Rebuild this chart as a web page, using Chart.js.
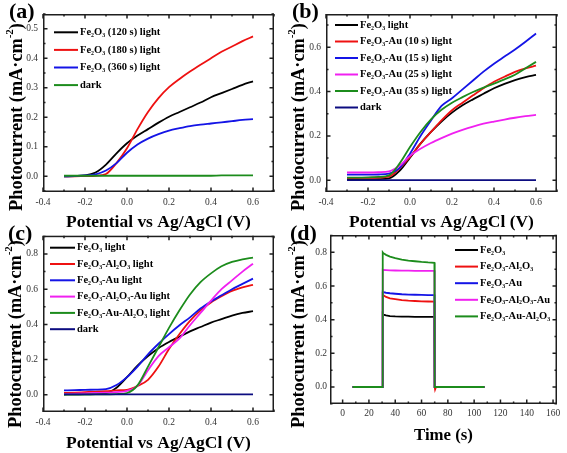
<!DOCTYPE html>
<html>
<head>
<meta charset="utf-8">
<script src="https://cdn.jsdelivr.net/npm/chart.js@4"></script>
<style>
  html, body { margin: 0; padding: 0; background: #fff; }
  body { width: 567px; height: 453px; position: relative; overflow: hidden; }
  .panel { position: absolute; }
</style>
</head>
<body>
<div class="panel" style="left:0;top:0;width:283px;height:235px"><canvas id="chartA"></canvas></div>
<div class="panel" style="left:283px;top:0;width:284px;height:235px"><canvas id="chartB"></canvas></div>
<div class="panel" style="left:0;top:225px;width:283px;height:228px"><canvas id="chartC"></canvas></div>
<div class="panel" style="left:283px;top:225px;width:284px;height:228px"><canvas id="chartD"></canvas></div>
<script>
// shared potential axis (V vs Ag/AgCl) for panels a-c
const potential = [-0.3, -0.25, -0.2, -0.15, -0.1, -0.05, 0, 0.05, 0.1, 0.15, 0.2, 0.25, 0.3, 0.35, 0.4, 0.45, 0.5, 0.55, 0.6];
const potentialTicks = [-0.4, -0.2, 0, 0.2, 0.4, 0.6];

// (a) deposition time
const fe120 = [0.000, 0.001, 0.003, 0.013, 0.040, 0.078, 0.112, 0.138, 0.160, 0.182, 0.202, 0.218, 0.234, 0.250, 0.268, 0.282, 0.296, 0.310, 0.322];
const fe180 = [0.000, 0.000, 0.001, 0.002, 0.008, 0.045, 0.095, 0.160, 0.218, 0.265, 0.302, 0.330, 0.355, 0.378, 0.400, 0.422, 0.440, 0.458, 0.474];
const fe360 = [0.000, 0.001, 0.003, 0.007, 0.020, 0.045, 0.080, 0.108, 0.128, 0.143, 0.155, 0.163, 0.170, 0.175, 0.179, 0.183, 0.187, 0.191, 0.194];
const darkA = [0.002, 0.002, 0.002, 0.002, 0.002, 0.002, 0.002, 0.002, 0.002, 0.002, 0.002, 0.002, 0.002, 0.002, 0.002, 0.003, 0.003, 0.003, 0.003];
const ticksYA = [0, 0.1, 0.2, 0.3, 0.4, 0.5];

// (b) Au sputtering time
const feB = [0.003, 0.003, 0.004, 0.005, 0.008, 0.042, 0.102, 0.165, 0.218, 0.265, 0.305, 0.338, 0.365, 0.390, 0.415, 0.435, 0.452, 0.465, 0.475];
const au10 = [0.010, 0.010, 0.011, 0.012, 0.016, 0.053, 0.105, 0.165, 0.218, 0.270, 0.316, 0.350, 0.383, 0.415, 0.444, 0.467, 0.489, 0.505, 0.517];
const au15 = [0.025, 0.025, 0.025, 0.026, 0.030, 0.055, 0.120, 0.200, 0.270, 0.335, 0.370, 0.410, 0.450, 0.490, 0.526, 0.558, 0.590, 0.625, 0.662];
const au25 = [0.035, 0.035, 0.035, 0.036, 0.040, 0.065, 0.110, 0.142, 0.168, 0.190, 0.210, 0.227, 0.242, 0.255, 0.265, 0.274, 0.282, 0.289, 0.295];
const au35 = [0.012, 0.012, 0.013, 0.015, 0.022, 0.075, 0.150, 0.218, 0.275, 0.318, 0.350, 0.375, 0.398, 0.418, 0.436, 0.455, 0.476, 0.505, 0.534];
const darkB = [0.001, 0.001, 0.001, 0.001, 0.001, 0.001, 0.001, 0.001, 0.001, 0.001, 0.001, 0.001, 0.001, 0.001, 0.001, 0.001, 0.001, 0.001, 0.001];
const ticksYB = [0, 0.2, 0.4, 0.6];

// (c) Al2O3 / Au combinations
const feC = [0.003, 0.003, 0.004, 0.006, 0.010, 0.040, 0.100, 0.165, 0.220, 0.265, 0.300, 0.330, 0.360, 0.385, 0.410, 0.430, 0.450, 0.465, 0.475];
const feAl = [0.010, 0.012, 0.015, 0.018, 0.020, 0.025, 0.028, 0.050, 0.085, 0.160, 0.260, 0.345, 0.420, 0.480, 0.525, 0.560, 0.590, 0.610, 0.625];
const feAu = [0.025, 0.026, 0.028, 0.029, 0.032, 0.055, 0.100, 0.160, 0.230, 0.290, 0.345, 0.395, 0.440, 0.490, 0.530, 0.565, 0.600, 0.630, 0.660];
const feAlAu = [0.005, 0.006, 0.008, 0.010, 0.012, 0.015, 0.022, 0.050, 0.140, 0.220, 0.270, 0.320, 0.395, 0.465, 0.535, 0.600, 0.650, 0.700, 0.745];
const feAuAl = [0.000, 0.001, 0.001, 0.002, 0.002, 0.004, 0.010, 0.053, 0.160, 0.270, 0.380, 0.480, 0.570, 0.640, 0.690, 0.730, 0.755, 0.770, 0.780];
const darkC = [0.002, 0.002, 0.002, 0.002, 0.002, 0.002, 0.002, 0.002, 0.002, 0.002, 0.002, 0.002, 0.002, 0.002, 0.002, 0.002, 0.002, 0.002, 0.002];
const ticksYC = [0, 0.2, 0.4, 0.6, 0.8];

// (d) chopped light, time in s
const timeD = [7.5, 30.3, 30.5, 31, 33, 36, 40, 45, 50, 55, 60, 65, 69.8, 70, 70.3, 71, 108];
const tFe = [0, 0, 0.435, 0.430, 0.425, 0.421, 0.419, 0.418, 0.418, 0.417, 0.417, 0.417, 0.417, 0, 0, 0, 0];
const tFeAl = [0, 0, 0.550, 0.545, 0.535, 0.527, 0.522, 0.516, 0.513, 0.511, 0.509, 0.508, 0.507, 0, -0.015, 0, 0];
const tFeAu = [0, 0, 0.565, 0.563, 0.560, 0.557, 0.554, 0.551, 0.549, 0.548, 0.547, 0.546, 0.546, 0, 0, 0, 0];
const tFeAlAu = [0, 0, 0.697, 0.695, 0.694, 0.693, 0.692, 0.691, 0.691, 0.690, 0.690, 0.690, 0.690, 0, 0, 0, 0];
const tFeAuAl = [0, 0, 0.800, 0.795, 0.785, 0.775, 0.765, 0.757, 0.751, 0.747, 0.743, 0.740, 0.738, 0, 0, 0, 0];
const ticksXD = [0, 20, 40, 60, 80, 100, 120, 140, 160];
const ticksYD = [0, 0.2, 0.4, 0.6, 0.8];

const SERIF = '"Liberation Serif", "DejaVu Serif", serif';
Chart.defaults.font.family = SERIF;
const FRAME = '#1e1e1e';

// text with unicode subscript digits drawn as real small lowered digits
function drawRich(ctx, text, x, y, size) {
  let run = '', sub = false;
  const flush = () => {
    if (!run) return;
    ctx.font = 'bold ' + (sub ? size * 0.56 : size) + 'px ' + SERIF;
    ctx.fillText(run, x, sub ? y + size * 0.3 : y);
    x += ctx.measureText(run).width;
    run = '';
  };
  for (const ch of text) {
    const c = ch.charCodeAt(0);
    const isSub = c >= 0x2080 && c <= 0x2089;
    if (isSub !== sub) { flush(); sub = isSub; }
    run += isSub ? String(c - 0x2080) : ch;
  }
  flush();
}

function minorTicks(scale, majors) {
  const out = [];
  for (let i = 0; i < majors.length - 1; i++) out.push((majors[i] + majors[i + 1]) / 2);
  const step = majors[1] - majors[0];
  if (majors[0] - step / 2 >= scale.min) out.push(majors[0] - step / 2);
  if (majors[majors.length - 1] + step / 2 <= scale.max) out.push(majors[majors.length - 1] + step / 2);
  return out;
}

const deco = {
  id: 'deco',
  afterDraw(chart, args, o) {
    const ctx = chart.ctx;
    const sx = chart.scales.x, sy = chart.scales.y;
    const L = sx.left, R = sx.right, T = sy.top, B = sy.bottom;
    ctx.save();
    // frame box and inward ticks on all four sides
    ctx.strokeStyle = FRAME;
    ctx.lineWidth = 1.5;
    ctx.strokeRect(L + 0.75, T + 0.75, R - L - 1.5, B - T - 1.5);
    ctx.beginPath();
    [[o.xMajor, 4.5], [minorTicks(sx, o.xMajor), 2.5]].forEach(([vals, len]) => vals.forEach(v => {
      const px = sx.getPixelForValue(v);
      ctx.moveTo(px, B); ctx.lineTo(px, B - len);
      ctx.moveTo(px, T); ctx.lineTo(px, T + len);
    }));
    [[o.yMajor, 4.5], [minorTicks(sy, o.yMajor), 2.5]].forEach(([vals, len]) => vals.forEach(v => {
      const py = sy.getPixelForValue(v);
      ctx.moveTo(L, py); ctx.lineTo(L + len, py);
      ctx.moveTo(R, py); ctx.lineTo(R - len, py);
    }));
    ctx.stroke();

    // legend
    ctx.textBaseline = 'middle';
    ctx.textAlign = 'left';
    chart.data.datasets.forEach((ds, i) => {
      const y = o.legend.y + i * o.legend.dy;
      ctx.strokeStyle = ds.borderColor;
      ctx.lineWidth = 2;
      ctx.beginPath();
      ctx.moveTo(o.legend.x, y); ctx.lineTo(o.legend.x + o.legend.len, y);
      ctx.stroke();
      ctx.fillStyle = '#000';
      drawRich(ctx, ds.label, o.legend.x + o.legend.len + 2, y, 10.5);
    });

    // axis titles, sized to the span they take in the figure
    ctx.fillStyle = '#000';
    ctx.textBaseline = 'alphabetic';
    ctx.textAlign = 'center';
    ctx.font = 'bold 18px ' + SERIF;
    const xs = 18 * o.xTitleW / ctx.measureText(o.xTitle).width;
    ctx.font = 'bold ' + xs + 'px ' + SERIF;
    ctx.fillText(o.xTitle, (L + R) / 2, o.xTitleY);

    ctx.save();
    ctx.translate(o.yTitleX, o.yTitleY);
    ctx.rotate(-Math.PI / 2);
    ctx.textAlign = 'left';
    ctx.textBaseline = 'middle';
    const parts = [['Photocurrent (mA\u00b7cm', 1, 0], ['-2', 0.6, -0.38], [')', 1, 0]];
    const measure = size => parts.reduce((w, p) => {
      ctx.font = 'bold ' + size * p[1] + 'px ' + SERIF;
      return w + ctx.measureText(p[0]).width;
    }, 0);
    const ys = 18 * 188 / measure(18);
    let x = -measure(ys) / 2;
    parts.forEach(p => {
      ctx.font = 'bold ' + ys * p[1] + 'px ' + SERIF;
      ctx.fillText(p[0], x, p[2] * ys);
      x += ctx.measureText(p[0]).width;
    });
    ctx.restore();

    // panel tag
    ctx.textAlign = 'left';
    ctx.font = 'bold 22px ' + SERIF;
    ctx.fillText(o.tag, o.tagX, o.tagY);
    ctx.restore();
  }
};

function lineSet(label, xs, ys, color, order, smooth) {
  return {
    label: label,
    data: xs.map((x, i) => ({ x: x, y: ys[i] })),
    borderColor: color,
    borderWidth: 1.8,
    pointRadius: 0,
    fill: false,
    order: order,
    tension: smooth ? 0.4 : 0,
    cubicInterpolationMode: smooth ? 'monotone' : 'default'
  };
}

function makeChart(id, p) {
  const tickFont = { family: SERIF, size: 9.5 };
  p.deco.xMajor = p.xTicks;
  p.deco.yMajor = p.yTicks;
  return new Chart(document.getElementById(id), {
    type: 'line',
    data: { datasets: p.datasets },
    options: {
      animation: false,
      responsive: true,
      maintainAspectRatio: false,
      layout: { padding: { left: 0, top: p.area.t, right: p.right, bottom: 0 } },
      plugins: { legend: { display: false }, tooltip: { enabled: false }, deco: p.deco },
      scales: {
        x: {
          type: 'linear', min: p.xMin, max: p.xMax,
          grid: { display: false, drawTicks: false }, border: { display: false },
          afterBuildTicks: s => { s.ticks = p.xTicks.map(v => ({ value: v })); },
          afterFit: s => { s.height = p.xH; },
          ticks: { font: tickFont, color: '#333', padding: p.xPad, maxRotation: 0, autoSkip: false,
                   callback: p.xFmt }
        },
        y: {
          type: 'linear', min: p.yMin, max: p.yMax,
          grid: { display: false, drawTicks: false }, border: { display: false },
          afterBuildTicks: s => { s.ticks = p.yTicks.map(v => ({ value: v })); },
          afterFit: s => { s.width = p.area.l; },
          ticks: { font: tickFont, color: '#333', padding: p.yPad, autoSkip: false,
                   callback: v => v.toFixed(1) }
        }
      }
    },
    plugins: [deco]
  });
}

const C = { black: '#000000', red: '#ee1111', blue: '#1414e6', magenta: '#f020f0', green: '#1c8c1c', navy: '#0c0c80' };
const fmt1 = v => v.toFixed(1);

makeChart('chartA', {
  area: { l: 43, t: 14 }, right: 9, xH: 43, xPad: 5, yPad: 5,
  xMin: -0.4, xMax: 0.7, yMin: -0.053, yMax: 0.55, xTicks: potentialTicks, yTicks: ticksYA, xFmt: fmt1,
  datasets: [
    lineSet('Fe\u2082O\u2083 (120 s) light', potential, fe120, C.black, 4, true),
    lineSet('Fe\u2082O\u2083 (180 s) light', potential, fe180, C.red, 3, true),
    lineSet('Fe\u2082O\u2083 (360 s) light', potential, fe360, C.blue, 2, true),
    lineSet('dark', potential, darkA, C.green, 1, true)
  ],
  deco: { tag: '(a)', tagX: 9, tagY: 18, xTitle: 'Potential vs Ag/AgCl (V)', xTitleY: 227, xTitleW: 185,
          yTitleX: 17, yTitleY: 117, legend: { x: 54, y: 32.3, dy: 17.6, len: 24 } }
});

makeChart('chartB', {
  area: { l: 43, t: 14 }, right: 10, xH: 43, xPad: 5, yPad: 5,
  xMin: -0.4, xMax: 0.7, yMin: -0.053, yMax: 0.75, xTicks: potentialTicks, yTicks: ticksYB, xFmt: fmt1,
  datasets: [
    lineSet('Fe\u2082O\u2083 light', potential, feB, C.black, 6, true),
    lineSet('Fe\u2082O\u2083-Au (10 s) light', potential, au10, C.red, 5, true),
    lineSet('Fe\u2082O\u2083-Au (15 s) light', potential, au15, C.blue, 4, true),
    lineSet('Fe\u2082O\u2083-Au (25 s) light', potential, au25, C.magenta, 3, true),
    lineSet('Fe\u2082O\u2083-Au (35 s) light', potential, au35, C.green, 2, true),
    lineSet('dark', potential, darkB, C.navy, 1, true)
  ],
  deco: { tag: '(b)', tagX: 9, tagY: 18, xTitle: 'Potential vs Ag/AgCl (V)', xTitleY: 227, xTitleW: 185,
          yTitleX: 16, yTitleY: 117, legend: { x: 52, y: 25, dy: 16.5, len: 23 } }
});

makeChart('chartC', {
  area: { l: 43, t: 10 }, right: 9, xH: 41, xPad: 5, yPad: 5,
  xMin: -0.4, xMax: 0.7, yMin: -0.098, yMax: 0.904, xTicks: potentialTicks, yTicks: ticksYC, xFmt: fmt1,
  datasets: [
    lineSet('Fe\u2082O\u2083 light', potential, feC, C.black, 6, true),
    lineSet('Fe\u2082O\u2083-Al\u2082O\u2083 light', potential, feAl, C.red, 5, true),
    lineSet('Fe\u2082O\u2083-Au light', potential, feAu, C.blue, 4, true),
    lineSet('Fe\u2082O\u2083-Al\u2082O\u2083-Au light', potential, feAlAu, C.magenta, 3, true),
    lineSet('Fe\u2082O\u2083-Au-Al\u2082O\u2083 light', potential, feAuAl, C.green, 2, true),
    lineSet('dark', potential, darkC, C.navy, 1, true)
  ],
  deco: { tag: '(c)', tagX: 8, tagY: 15, xTitle: 'Potential vs Ag/AgCl (V)', xTitleY: 222.5, xTitleW: 185,
          yTitleX: 16, yTitleY: 109, legend: { x: 50, y: 22.7, dy: 16.3, len: 25 } }
});

makeChart('chartD', {
  area: { l: 47, t: 10 }, right: 10, xH: 49, xPad: 4, yPad: 3,
  xMin: -9.6, xMax: 163, yMin: -0.101, yMax: 0.903, xTicks: ticksXD, yTicks: ticksYD, xFmt: v => String(v),
  datasets: [
    lineSet('Fe\u2082O\u2083', timeD, tFe, C.black, 5, false),
    lineSet('Fe\u2082O\u2083-Al\u2082O\u2083', timeD, tFeAl, C.red, 4, false),
    lineSet('Fe\u2082O\u2083-Au', timeD, tFeAu, C.blue, 3, false),
    lineSet('Fe\u2082O\u2083-Al\u2082O\u2083-Au', timeD, tFeAlAu, C.magenta, 2, false),
    lineSet('Fe\u2082O\u2083-Au-Al\u2082O\u2083', timeD, tFeAuAl, C.green, 1, false)
  ],
  deco: { tag: '(d)', tagX: 7, tagY: 15, xTitle: 'Time (s)', xTitleY: 215, xTitleW: 59,
          yTitleX: 16, yTitleY: 109, legend: { x: 172, y: 25, dy: 16.6, len: 23 } }
});
</script>
</body>
</html>
